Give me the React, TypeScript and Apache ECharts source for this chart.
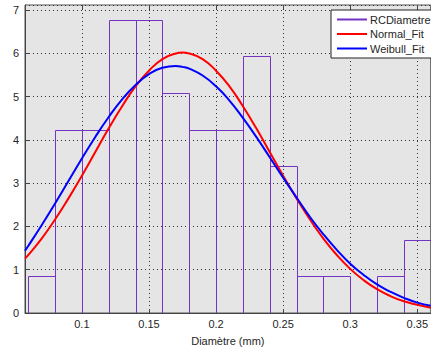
import React, { useEffect, useRef } from "react";
import * as echarts from "echarts";

// Histogram bins (bin edges) and density heights (counts / (n * binWidth), n = 59)
const binStarts = [0.06, 0.08, 0.1, 0.12, 0.14, 0.16, 0.18, 0.2, 0.22, 0.24, 0.26, 0.28, 0.3, 0.32, 0.34];
const binEnds = [0.08, 0.1, 0.12, 0.14, 0.16, 0.18, 0.2, 0.22, 0.24, 0.26, 0.28, 0.3, 0.32, 0.34, 0.36];
const binHeights = [0.847, 4.237, 4.237, 6.78, 6.78, 5.085, 4.237, 4.237, 5.932, 3.39, 0.847, 0.847, 0, 0.847, 1.695];

// Fitted curves
const curveX = [0.0576, 0.06, 0.07, 0.08, 0.09, 0.1, 0.11, 0.12, 0.13, 0.14, 0.15, 0.16, 0.17, 0.175, 0.18, 0.19, 0.2, 0.21, 0.22, 0.23, 0.24, 0.25, 0.26, 0.27, 0.28, 0.29, 0.3, 0.31, 0.32, 0.33, 0.34, 0.35, 0.36];
const normalFit = [1.26, 1.34, 1.72, 2.16, 2.65, 3.17, 3.72, 4.27, 4.78, 5.24, 5.6, 5.87, 6.0, 6.02, 6.0, 5.87, 5.6, 5.24, 4.78, 4.27, 3.72, 3.17, 2.65, 2.16, 1.72, 1.34, 1.02, 0.76, 0.55, 0.39, 0.27, 0.19, 0.12];
const weibullFit = [1.44, 1.55, 2.03, 2.53, 3.05, 3.57, 4.07, 4.53, 4.94, 5.27, 5.52, 5.67, 5.71, 5.69, 5.65, 5.49, 5.24, 4.91, 4.51, 4.07, 3.6, 3.13, 2.67, 2.22, 1.82, 1.46, 1.14, 0.88, 0.66, 0.49, 0.35, 0.24, 0.17];

const xTicks = [0.1, 0.15, 0.2, 0.25, 0.3, 0.35];
const xMin = 0.0576;
const xMax = 0.36;
const yMax = 7.12;

const FONT = "Liberation Sans, Arial, sans-serif";
const TEXT = "#262626";
const PURPLE = "#7533c4";

export default function App() {
  const ref = useRef<HTMLDivElement>(null);
  useEffect(() => {
    if (!ref.current) return;
    const chart = echarts.init(ref.current, null, { renderer: "svg" });
    const histData = binStarts.map((s, i) => [s, binEnds[i], binHeights[i]]);
    const normalData = curveX.map((x, i) => [x, normalFit[i]]);
    const weibullData = curveX.map((x, i) => [x, weibullFit[i]]);
    chart.setOption({
      animation: false,
      backgroundColor: "#ffffff",
      textStyle: { fontFamily: FONT },
      grid: {
        left: 25,
        right: 0,
        top: 5,
        bottom: 33,
        show: true,
        backgroundColor: "#e5e5e5",
        borderColor: "#555",
        borderWidth: 1,
      },
      legend: {
        orient: "vertical",
        left: 331,
        top: 10,
        padding: [4, 3, 4, 5],
        itemWidth: 30,
        itemHeight: 10,
        itemGap: 3.5,
        backgroundColor: "#ffffff",
        borderColor: "#222",
        borderWidth: 1,
        itemStyle: { opacity: 0 },
        textStyle: { fontFamily: FONT, fontSize: 11, color: TEXT, padding: [0, 0, 0, -2] },
        data: ["RCDiametre", "Normal_Fit", "Weibull_Fit"],
      },
      xAxis: [
        {
          type: "value",
          min: xMin,
          max: xMax,
          name: "Diamètre (mm)",
          nameLocation: "middle",
          nameGap: 22,
          nameTextStyle: { fontFamily: FONT, fontSize: 11, color: TEXT },
          axisLine: { show: true, lineStyle: { color: "#444", width: 1 } },
          axisTick: { show: true, inside: true, length: 4, customValues: xTicks, lineStyle: { color: "#444" } },
          axisLabel: {
            fontFamily: FONT,
            fontSize: 11,
            color: TEXT,
            margin: 5,
            customValues: xTicks,
            formatter: (v: number) => String(Math.round(v * 100) / 100),
          },
          splitLine: { show: true, lineStyle: { color: "#333", type: [1, 3], width: 1 } },
        },
        {
          type: "value",
          position: "top",
          min: xMin,
          max: xMax,
          axisLine: { show: false },
          axisTick: { show: true, inside: true, length: 4, customValues: xTicks, lineStyle: { color: "#444" } },
          axisLabel: { show: false },
          splitLine: { show: false },
        },
      ],
      yAxis: {
        type: "value",
        min: 0,
        max: yMax,
        interval: 1,
        axisLine: { show: true, lineStyle: { color: "#444", width: 1 } },
        axisTick: { show: true, inside: true, length: 4, lineStyle: { color: "#444" } },
        axisLabel: {
          fontFamily: FONT,
          fontSize: 11,
          color: TEXT,
          margin: 6,
          showMaxLabel: false,
        },
        splitLine: { show: true, lineStyle: { color: "#333", type: [1, 3], width: 1 } },
      },
      series: [
        {
          type: "custom",
          name: "hist",
          data: histData,
          encode: { x: [0, 1], y: 2 },
          clip: true,
          renderItem: (params: any, api: any) => {
            const h = api.value(2);
            if (!h) return null;
            const p0 = api.coord([api.value(0), h]);
            const p1 = api.coord([api.value(1), 0]);
            return {
              type: "rect",
              shape: {
                x: Math.round(p0[0]) + 0.5,
                y: Math.round(p0[1]) + 0.5,
                width: Math.round(p1[0]) - Math.round(p0[0]),
                height: Math.round(p1[1]) - Math.round(p0[1]),
              },
              style: { fill: "none", stroke: PURPLE, lineWidth: 1 },
            };
          },
        },
        {
          type: "line",
          name: "RCDiametre",
          data: [],
          symbol: "none",
          lineStyle: { color: PURPLE, width: 1 },
          itemStyle: { color: PURPLE },
        },
        {
          type: "line",
          name: "Normal_Fit",
          data: normalData,
          smooth: true,
          symbol: "none",
          lineStyle: { color: "#ff0000", width: 2 },
          itemStyle: { color: "#ff0000" },
        },
        {
          type: "line",
          name: "Weibull_Fit",
          data: weibullData,
          smooth: true,
          symbol: "none",
          lineStyle: { color: "#0000ff", width: 2 },
          itemStyle: { color: "#0000ff" },
        },
      ],
    });
    return () => chart.dispose();
  }, []);
  return <div ref={ref} style={{ width: 431, height: 351, position: "absolute", left: 0, top: 0 }} />;
}
